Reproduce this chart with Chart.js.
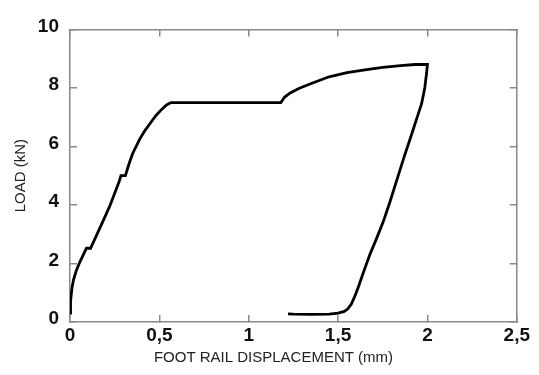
<!DOCTYPE html>
<html lang="en">
  <head>
    <meta charset="UTF-8" />
    <title>Load vs foot rail displacement</title>
    <script src="https://cdn.jsdelivr.net/npm/chart.js"></script>
    <style>
      html, body { margin: 0; padding: 0; background: #fff; }
      canvas { display: block; }
    </style>
  </head>
  <body>
    <canvas id="load-chart" width="539" height="375"></canvas>

    <script>
      // displacement (mm) and load (kN), loading then unloading
      const displacement = [
        0, 0.003, 0.008, 0.012, 0.02, 0.035, 0.055, 0.075, 0.092, 0.115,
        0.14, 0.17, 0.2, 0.225, 0.25, 0.275, 0.285, 0.31, 0.33, 0.35,
        0.39, 0.42, 0.45, 0.48, 0.51, 0.54, 0.565, 1.18, 1.2, 1.23,
        1.28, 1.35, 1.45, 1.55, 1.65, 1.75, 1.85, 1.93, 2.0,
        1.995, 1.985, 1.967, 1.94, 1.908, 1.87, 1.825, 1.79, 1.753,
        1.715, 1.678, 1.645, 1.613, 1.595, 1.575, 1.555, 1.535, 1.5,
        1.45, 1.35, 1.25, 1.22
      ];
      const load = [
        0.3, 0.7, 1.0, 1.2, 1.45, 1.75, 2.05, 2.3, 2.52, 2.52,
        2.85, 3.25, 3.65, 4.0, 4.4, 4.8, 5.0, 5.0, 5.4, 5.75,
        6.25, 6.55, 6.8, 7.05, 7.25, 7.42, 7.5, 7.5, 7.68, 7.82,
        7.98, 8.15, 8.38, 8.52, 8.62, 8.7, 8.76, 8.8, 8.8,
        8.5, 8.0, 7.45, 6.95, 6.35, 5.65, 4.78, 4.1, 3.43,
        2.85, 2.31, 1.75, 1.19, 0.9, 0.62, 0.45, 0.36, 0.3,
        0.27, 0.26, 0.27, 0.28
      ];
      const xTicks = { min: 0, max: 2.5, step: 0.5 };
      const yTicks = { min: 0, max: 10, step: 2 };

      const frameColor = "#8a8a8a";
      const tickFont = { family: "Liberation Sans", size: 19, weight: "bold" };
      const titleFont = { family: "Liberation Sans", size: 15, weight: "normal" };
      const commaLabel = (v) => String(v).replace(".", ",");

      const points = displacement.map((x, i) => ({ x: x, y: load[i] }));

      // inward ticks, no grid inside the frame
      const frameGrid = {
        drawOnChartArea: false,
        color: frameColor,
        lineWidth: 1.5,
        tickLength: -7,
      };
      const frameBorder = { color: frameColor, width: 1.5 };

      new Chart(document.getElementById("load-chart"), {
        type: "scatter",
        data: {
          datasets: [
            {
              data: points,
              showLine: true,
              borderColor: "#000",
              borderWidth: 2.8,
              pointRadius: 0,
              tension: 0,
              fill: false,
            },
          ],
        },
        options: {
          responsive: false,
          animation: false,
          layout: { padding: { top: 25, right: 7, left: 15, bottom: 0 } },
          plugins: {
            legend: { display: false },
            tooltip: { enabled: false },
            title: {
              display: true,
              position: "bottom",
              text: "FOOT RAIL DISPLACEMENT (mm)",
              color: "#222",
              font: titleFont,
              padding: { top: 0, bottom: 8 },
            },
          },
          scales: {
            x: {
              type: "linear",
              position: "bottom",
              min: xTicks.min,
              max: xTicks.max,
              grid: frameGrid,
              border: frameBorder,
              ticks: {
                stepSize: xTicks.step,
                color: "#111",
                font: tickFont,
                padding: 9,
                maxRotation: 0,
                callback: commaLabel,
              },
              afterFit: (s) => { s.height = 27; },
            },
            x2: {
              type: "linear",
              position: "top",
              min: xTicks.min,
              max: xTicks.max,
              grid: frameGrid,
              border: frameBorder,
              ticks: { stepSize: xTicks.step, display: false },
              afterFit: (s) => { s.height = 0; },
            },
            y: {
              type: "linear",
              position: "left",
              min: yTicks.min,
              max: yTicks.max,
              grid: frameGrid,
              border: frameBorder,
              ticks: {
                stepSize: yTicks.step,
                color: "#111",
                font: tickFont,
                padding: 18,
                labelOffset: -3,
              },
              title: {
                display: true,
                text: "LOAD (kN)",
                color: "#222",
                font: titleFont,
                padding: { top: -3, bottom: 0 },
              },
              afterFit: (s) => { s.width = 55; },
            },
            y2: {
              type: "linear",
              position: "right",
              min: yTicks.min,
              max: yTicks.max,
              grid: frameGrid,
              border: frameBorder,
              ticks: { stepSize: yTicks.step, display: false },
              afterFit: (s) => { s.width = 15; },
            },
          },
        },
      });
    </script>
  </body>
</html>
